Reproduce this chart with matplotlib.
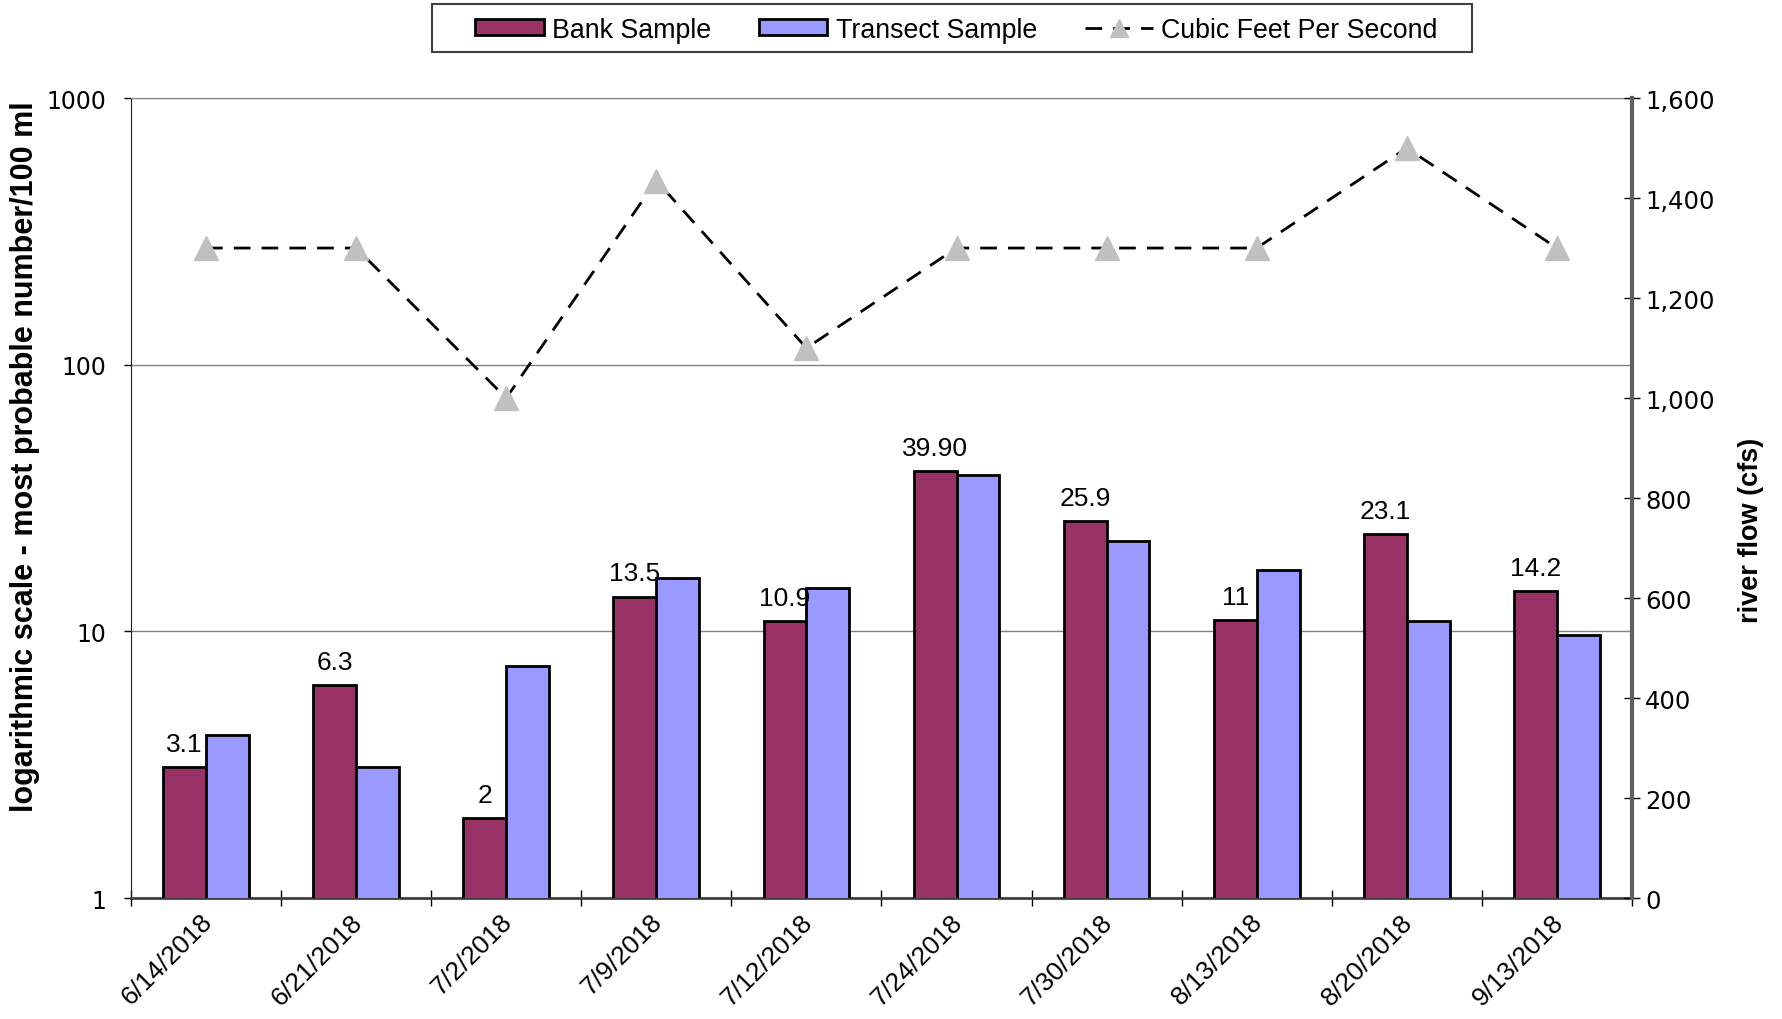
import numpy as np
import matplotlib.pyplot as plt
import matplotlib.transforms as mtransforms
from matplotlib.patches import Rectangle
from matplotlib.ticker import FixedLocator, FuncFormatter, NullFormatter

dates = ["6/14/2018", "6/21/2018", "7/2/2018", "7/9/2018", "7/12/2018",
         "7/24/2018", "7/30/2018", "8/13/2018", "8/20/2018", "9/13/2018"]
bank = [3.1, 6.3, 2, 13.5, 10.9, 39.9, 25.9, 11, 23.1, 14.2]
bank_labels = ["3.1", "6.3", "2", "13.5", "10.9", "39.90", "25.9", "11", "23.1", "14.2"]
transect = [4.1, 3.1, 7.4, 15.8, 14.6, 38.7, 21.9, 17.0, 10.9, 9.7]
cfs = [1300, 1300, 1000, 1435, 1100, 1300, 1300, 1300, 1500, 1300]

arial = ["Liberation Sans", "DejaVu Sans"]
plt.rcParams["font.family"] = arial

fig = plt.figure(figsize=(17.82, 10.2), dpi=100)
ax = fig.add_axes([0.0735, 0.1186, 0.8423, 0.7843])

x = np.arange(len(dates))
w = 1 / 3.5
ax.bar(x - w / 2, bank, w, color="#993366", edgecolor="black", lw=2, zorder=3,
       label="Bank Sample")
ax.bar(x + w / 2, transect, w, color="#9999FF", edgecolor="black", lw=2, zorder=3,
       label="Transect Sample")
for xi, v, t in zip(x, bank, bank_labels):
    ax.annotate(t, (xi - w / 2, v), xytext=(0, 8), textcoords="offset points",
                ha="center", va="bottom", fontsize=19)

ax.set_yscale("log")
ax.set_ylim(1, 1000)
ax.set_xlim(-0.5, len(dates) - 0.5)
ax.yaxis.set_major_locator(FixedLocator([1, 10, 100, 1000]))
ax.yaxis.set_major_formatter(FuncFormatter(lambda v, p: "%d" % v))
ax.yaxis.set_minor_formatter(NullFormatter())
ax.yaxis.set_minor_locator(FixedLocator([]))
ax.grid(axis="y", color="#808080", lw=1, zorder=0)
ax.tick_params(axis="y", labelsize=17, length=5, width=1, direction="out", pad=13)
for t in ax.get_yticklabels():
    t.set_family("DejaVu Sans")

ax.set_xticks(x)
ax.set_xticklabels(dates, rotation=45, ha="right", rotation_mode="anchor", fontsize=19)
ax.tick_params(axis="x", length=0, pad=8)
offset = mtransforms.ScaledTranslation(-6 / 100, 0, fig.dpi_scale_trans)
for t in ax.get_xticklabels():
    t.set_transform(t.get_transform() + offset)
ax.set_xticks(np.arange(len(dates) + 1) - 0.5, minor=True)
ax.tick_params(axis="x", which="minor", length=11, width=1, direction="inout")

ax.spines["top"].set_color("#808080")
ax.spines["left"].set_color("#202020")
ax.spines["bottom"].set_color("#404040")
ax.spines["bottom"].set_linewidth(2)

ax2 = ax.twinx()
ax2.plot(x, cfs, color="black", ls=(0, (6, 4)), lw=2, marker="^", markersize=17,
         markerfacecolor="#C0C0C0", markeredgecolor="#C0C0C0", zorder=4,
         label="Cubic Feet Per Second")
ax2.set_ylim(0, 1600)
ax2.set_yticks(np.arange(0, 1601, 200))
ax2.yaxis.set_major_formatter(FuncFormatter(lambda v, p: "{:,.0f}".format(v)))
ax2.tick_params(axis="y", labelsize=17.5, length=11, width=1, direction="inout", pad=4)
for t in ax2.get_yticklabels():
    t.set_family("DejaVu Sans")
ax2.spines["right"].set_color("#606060")
ax2.spines["right"].set_linewidth(3)
for s in ["top", "left", "bottom"]:
    ax2.spines[s].set_visible(False)

fig.text(0.0141, 0.552, "logarithmic scale - most probable number/100 ml", rotation=90,
         ha="center", va="center", fontsize=22, fontweight="bold")
fig.text(0.9825, 0.480, "river flow (cfs)", rotation=90,
         ha="center", va="center", fontsize=19.5, fontweight="bold")

h1, l1 = ax.get_legend_handles_labels()
h2, l2 = ax2.get_legend_handles_labels()
fig.legend(h1 + h2, l1 + l2, loc="center", bbox_to_anchor=(0.5368, 0.970),
           ncol=3, frameon=False, fontsize=19.3, markerscale=0.8,
           handlelength=2.55, handleheight=0.55, columnspacing=1.8,
           handletextpad=0.3)
fig.add_artist(Rectangle((0.2424, 0.948), 0.5835, 0.047, transform=fig.transFigure,
                         fill=False, edgecolor="#404040", lw=1.5))

fig.savefig("out.png", dpi=100)
